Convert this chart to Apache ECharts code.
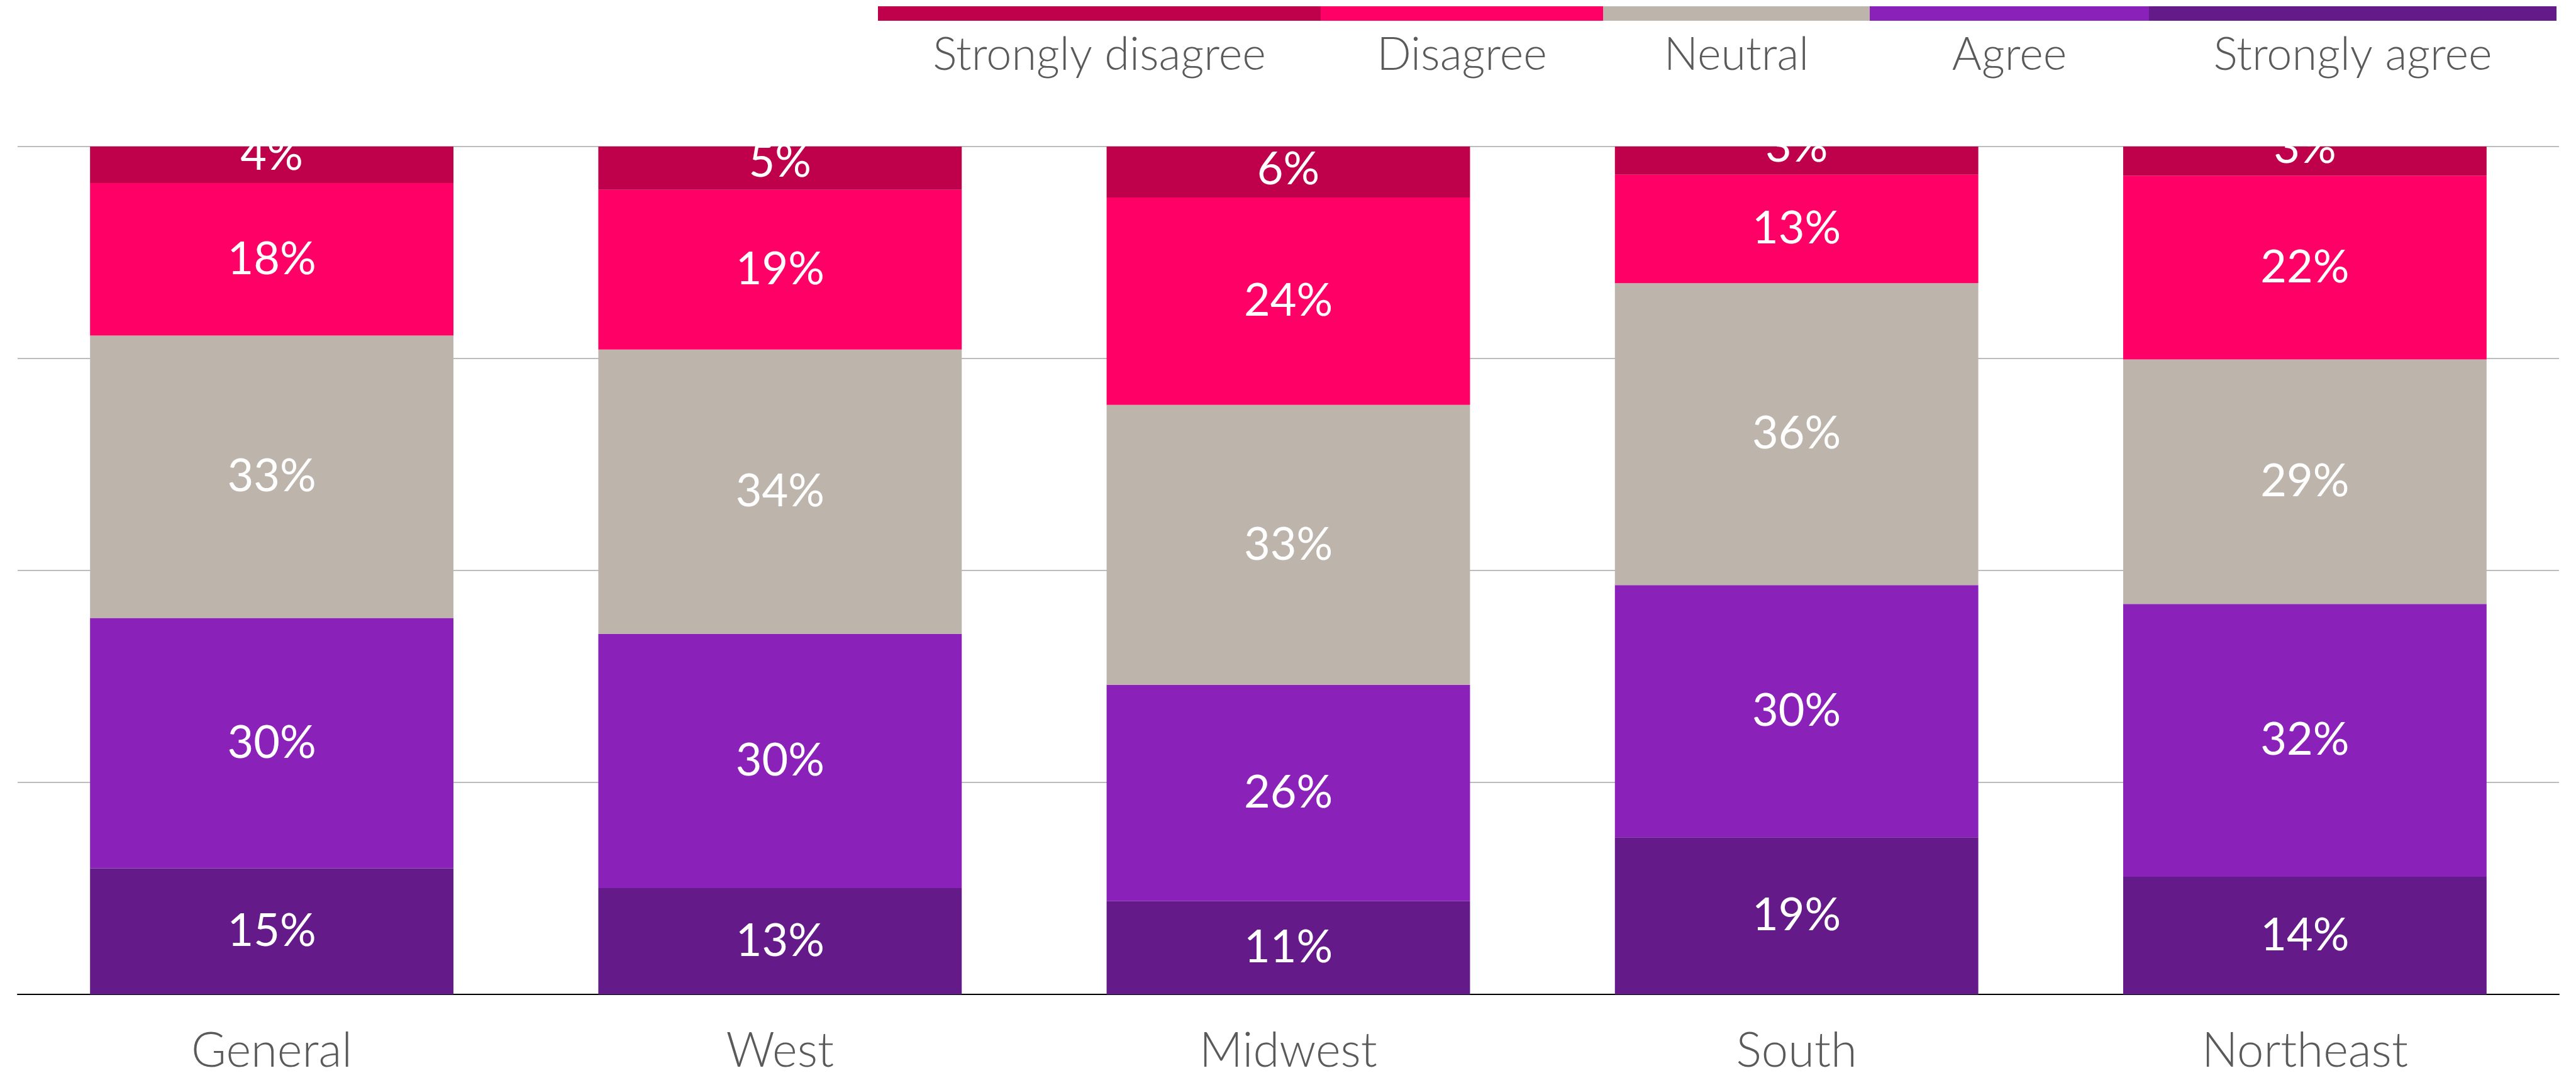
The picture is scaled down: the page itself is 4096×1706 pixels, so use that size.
<!DOCTYPE html>
<html>
<head>
<meta charset="utf-8">
<script src="https://cdn.jsdelivr.net/npm/echarts@6/dist/echarts.min.js"></script>
<style>
  html, body { margin: 0; padding: 0; background: #fff; }
  #chart { width: 4096px; height: 1706px; }
</style>
</head>
<body>
<div id="chart"></div>
<script>
  var regions = ['General', 'West', 'Midwest', 'South', 'Northeast'];
  var answers = ['Strongly disagree', 'Disagree', 'Neutral', 'Agree', 'Strongly agree'];
  // share of answers per region, in %
  var stronglyDisagree = [4.3, 5.1, 6.0, 3.32, 3.44];
  var disagree = [18.0, 18.85, 24.48, 12.8, 21.68];
  var neutral = [33.3, 33.52, 33.0, 35.6, 28.83];
  var agree = [29.52, 30.0, 25.53, 29.76, 32.17];
  var stronglyAgree = [14.88, 12.53, 10.99, 18.52, 13.88];

  var colors = ['#bf004b', '#ff0066', '#bdb5ab', '#8a22b9', '#651a89'];
  var legendW = [704, 449, 424, 444, 648];
  var font = 'Lato';
  var grey = '#5a5a5a';

  var rich = {};
  answers.forEach(function (a, i) {
    rich['b' + i] = { width: legendW[i], height: 23, backgroundColor: colors[i] };
    rich['t' + i] = {
      width: legendW[i], align: 'center', fontSize: 72, fontFamily: font,
      fontWeight: 300, color: grey, lineHeight: 110
    };
  });

  function makeSeries(name, data, idx, top) {
    return {
      name: name,
      type: 'bar',
      stack: 'total',
      barWidth: '71.5%',
      data: data,
      itemStyle: { color: colors[idx] },
      emphasis: { disabled: true },
      label: {
        show: true,
        position: top ? 'insideBottom' : 'inside',
        distance: top ? 8 : 5,
        color: '#fff',
        fontSize: 72,
        fontFamily: font,
        fontWeight: 400,
        textBorderWidth: 0,
        formatter: function (p) { return Math.round(p.value) + '%'; }
      }
    };
  }

  var chart = echarts.init(document.getElementById('chart'));
  chart.setOption({
    animation: false,
    backgroundColor: '#fff',
    grid: { left: 28, right: 27, top: 233, bottom: 125, containLabel: false, outerBoundsMode: 'none' },
    legend: {
      data: answers,
      left: 1391,
      top: 10,
      padding: 0,
      itemGap: -5,
      itemWidth: 0,
      itemHeight: 0,
      selectedMode: false,
      formatter: function (name) {
        var i = answers.indexOf(name);
        return '{b' + i + '|}\n{t' + i + '|' + name + '}';
      },
      textStyle: { rich: rich }
    },
    xAxis: {
      type: 'category',
      data: regions,
      axisTick: { show: false },
      axisLine: { lineStyle: { color: '#000', width: 2 } },
      axisLabel: { margin: 52, fontSize: 76, fontFamily: font, fontWeight: 300, color: grey }
    },
    yAxis: {
      type: 'value',
      min: 0,
      max: 100,
      interval: 25,
      axisLabel: { show: false },
      axisLine: { show: false },
      axisTick: { show: false },
      splitLine: { lineStyle: { color: '#bdbdbd', width: 2 } }
    },
    // labels of the top segments are cut at the plot top, as in the source
    graphic: [{
      type: 'rect', left: 0, top: 140, z: 50,
      shape: { width: 4096, height: 92 },
      style: { fill: '#fff' }
    }],
    series: [
      makeSeries('Strongly agree', stronglyAgree, 4),
      makeSeries('Agree', agree, 3),
      makeSeries('Neutral', neutral, 2),
      makeSeries('Disagree', disagree, 1),
      makeSeries('Strongly disagree', stronglyDisagree, 0, true)
    ]
  });
</script>
</body>
</html>
